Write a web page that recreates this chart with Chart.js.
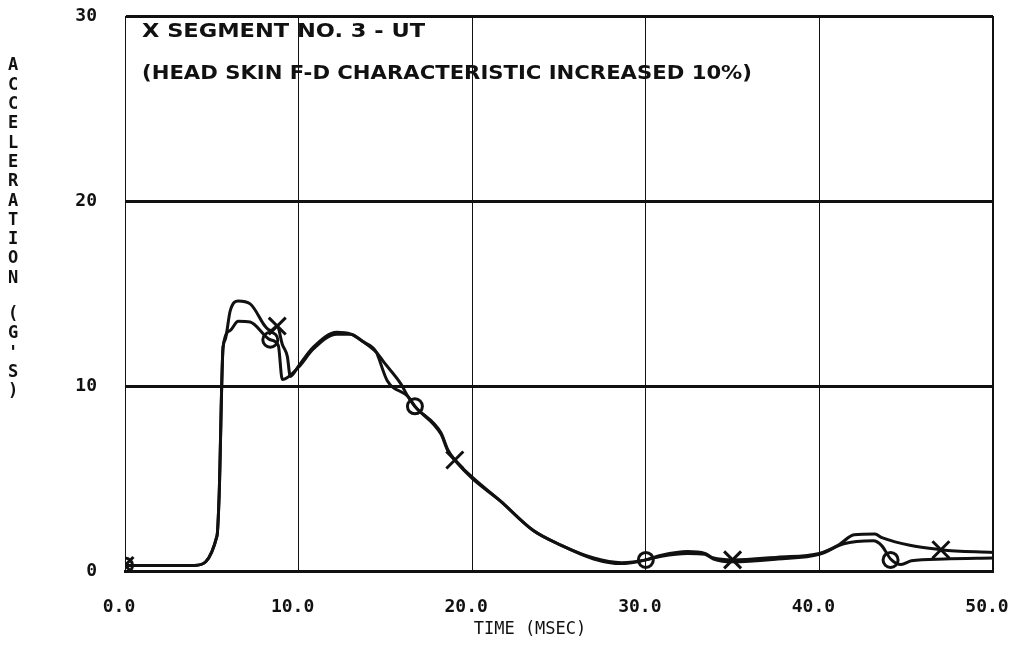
<!DOCTYPE html>
<html>
<head>
    <title>Acceleration vs Time</title>
    <script src="https://cdn.jsdelivr.net/npm/chart.js"></script>
    <style>
        body { margin: 0; background: #fff; }
        #wrap { width: 1026px; height: 645px; }
    </style>
</head>
<body>
    <div id="wrap"><canvas id="accelChart" width="1026" height="645"></canvas></div>
    <script>
        // curve marked with X
        const timeA = [0, 4.0, 5.3, 5.42, 5.65, 5.77, 6.06, 6.52, 7.21, 8.4, 8.77, 9.06, 9.35, 9.52, 9.98, 10.85, 12.2, 13.0, 13.7, 14.5, 14.9, 15.9, 16.3, 16.7, 18.2, 18.6, 19.0, 20.0, 21.6, 23.5, 25.1, 27.0, 28.6, 30.0, 30.9, 32.4, 33.4, 33.9, 35.0, 37.6, 40.0, 41.1, 42.0, 43.2, 43.6, 47.0, 50.0];
        const accelA = [0.3, 0.3, 1.9, 4.0, 12.1, 12.5, 14.06, 14.6, 14.44, 13.0, 13.24, 12.26, 11.6, 10.52, 11.06, 12.1, 12.9, 12.8, 12.4, 11.8, 11.3, 10.1, 9.43, 8.9, 7.47, 6.54, 6.0, 5.07, 3.8, 2.2, 1.4, 0.7, 0.45, 0.6, 0.85, 1.05, 0.95, 0.7, 0.6, 0.75, 0.95, 1.4, 1.96, 2.0, 1.8, 1.15, 1.0];
        // curve marked with O
        const timeB = [0, 4.0, 5.3, 5.42, 5.65, 6.06, 6.52, 7.21, 8.37, 8.83, 9.06, 9.98, 10.85, 12.2, 13.0, 13.7, 14.5, 14.6, 15.1, 16.3, 16.7, 18.2, 18.6, 19.0, 20.0, 21.6, 23.5, 25.1, 27.0, 28.6, 30.0, 30.9, 32.4, 33.4, 33.9, 35.0, 37.6, 40.0, 41.4, 43.1, 43.6, 44.1, 44.7, 45.3, 47.2, 50.0];
        const accelB = [0.3, 0.3, 1.9, 4.0, 12.1, 13.0, 13.5, 13.46, 12.5, 12.2, 10.35, 11.0, 12.0, 12.8, 12.8, 12.4, 11.8, 11.55, 10.3, 9.43, 8.9, 7.4, 6.5, 6.0, 5.0, 3.8, 2.2, 1.4, 0.65, 0.4, 0.6, 0.8, 0.95, 0.9, 0.65, 0.5, 0.65, 0.9, 1.47, 1.63, 1.36, 0.65, 0.35, 0.55, 0.65, 0.7];

        const markTimeA = [0, 8.77, 19.0, 35.0, 47.0];
        const markAccelA = [0.3, 13.24, 6.0, 0.6, 1.15];
        const markTimeB = [0, 8.37, 16.7, 30.0, 44.1];
        const markAccelB = [0.3, 12.5, 8.9, 0.6, 0.6];

        const xTicks = [0, 10, 20, 30, 40, 50];
        const xLabels = ['0.0', '10.0', '20.0', '30.0', '40.0', '50.0'];
        const yTicks = [0, 10, 20, 30];
        const yLabels = ['0', '10', '20', '30'];

        const ink = '#111';
        const toPoints = (xs, ys) => xs.map((x, i) => ({ x: x, y: ys[i] }));

        // text drawn on top: vertical y title, the two note lines, x title
        const plotText = {
            id: 'plotText',
            afterDraw(chart) {
                const ctx = chart.ctx;
                ctx.save();
                ctx.fillStyle = ink;
                ctx.textAlign = 'center';
                ctx.textBaseline = 'middle';

                // stacked y title
                ctx.font = 'bold 17px "DejaVu Sans Mono"';
                const yTitle = "ACCELERATION (G'S)";
                let yy = 66;
                for (const ch of yTitle) {
                    if (ch === ' ') { yy += 17; continue; }
                    ctx.fillText(ch, 13, yy);
                    yy += 19.3;
                }

                // notes, stretched to the plotter width
                const note = (txt, x, y, w) => {
                    ctx.font = 'bold 20px "DejaVu Sans"';
                    const m = ctx.measureText(txt).width;
                    ctx.save();
                    ctx.translate(x, y);
                    ctx.scale(w / m, 1);
                    ctx.textAlign = 'left';
                    ctx.fillText(txt, 0, 0);
                    ctx.restore();
                };
                note('X SEGMENT NO. 3 - UT', 142, 32, 283);
                note('(HEAD SKIN F-D CHARACTERISTIC INCREASED 10%)', 142, 74, 610);

                ctx.font = '17px "DejaVu Sans Mono"';
                ctx.fillText('TIME (MSEC)', 530, 630);
                ctx.restore();
            }
        };

        const ctx = document.getElementById('accelChart').getContext('2d');
        const accelChart = new Chart(ctx, {
            type: 'line',
            data: {
                datasets: [
                    {
                        data: toPoints(timeA, accelA),
                        borderColor: ink,
                        borderWidth: 3,
                        pointRadius: 0,
                        fill: false,
                        cubicInterpolationMode: 'monotone'
                    },
                    {
                        data: toPoints(timeB, accelB),
                        borderColor: ink,
                        borderWidth: 3,
                        pointRadius: 0,
                        fill: false,
                        cubicInterpolationMode: 'monotone'
                    },
                    {
                        type: 'scatter',
                        data: toPoints(markTimeA, markAccelA),
                        pointStyle: 'crossRot',
                        pointRadius: 12,
                        borderWidth: 3,
                        borderColor: ink,
                        backgroundColor: 'transparent'
                    },
                    {
                        type: 'scatter',
                        data: toPoints(markTimeB, markAccelB),
                        pointStyle: 'circle',
                        pointRadius: 7.5,
                        borderWidth: 3,
                        borderColor: ink,
                        backgroundColor: 'transparent'
                    }
                ]
            },
            options: {
                responsive: false,
                animation: false,
                layout: { padding: { top: 16, right: 33, left: 0, bottom: 0 } },
                plugins: { legend: { display: false }, tooltip: { enabled: false } },
                scales: {
                    x: {
                        type: 'linear',
                        min: 0,
                        max: 50,
                        afterBuildTicks: s => { s.ticks = xTicks.map(v => ({ value: v })); },
                        afterFit: s => { s.height = 74; s.paddingLeft = 0; s.paddingRight = 0; },
                        ticks: {
                            callback: (v, i) => xLabels[i],
                            color: ink,
                            padding: 26,
                            labelOffset: -6,
                            maxRotation: 0,
                            font: { family: 'DejaVu Sans Mono', weight: 'bold', size: 18 }
                        },
                        grid: {
                            color: ink,
                            lineWidth: c => (c.tick && c.tick.value === 50 ? 2 : 1),
                            drawTicks: false
                        },
                        border: { color: ink, width: 3 }
                    },
                    y: {
                        min: 0,
                        max: 30,
                        afterBuildTicks: s => { s.ticks = yTicks.map(v => ({ value: v })); },
                        afterFit: s => { s.width = 125; s.paddingTop = 0; s.paddingBottom = 0; },
                        ticks: {
                            callback: (v, i) => yLabels[i],
                            color: ink,
                            padding: 28,
                            font: { family: 'DejaVu Sans Mono', weight: 'bold', size: 18 }
                        },
                        grid: { color: ink, lineWidth: 3, drawTicks: false },
                        border: { color: ink, width: 1 }
                    }
                }
            },
            plugins: [plotText]
        });
    </script>
</body>
</html>
